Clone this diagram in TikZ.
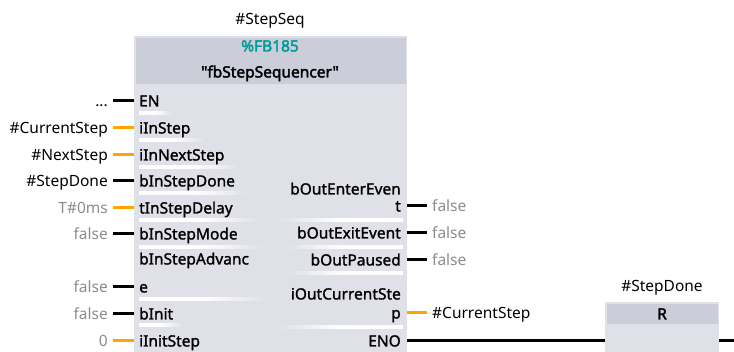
\documentclass[tikz,border=0pt]{standalone}
\usepackage{fontspec}
\setmainfont{Noto Sans}
\newfontfamily\pinfont[FakeBold=1.4]{Noto Sans}
\newfontfamily\hdrfont[FakeBold=2.4, Ligatures=TeXOff]{Noto Sans}

\definecolor{hdr}{RGB}{203,205,217}
\definecolor{bodyc}{RGB}{223,224,232}
\definecolor{wireor}{RGB}{255,165,0}
\definecolor{tealc}{RGB}{0,153,153}
\definecolor{muted}{RGB}{140,140,140}

% separators under pin names, white fading into the block colour
\pgfdeclarehorizontalshading{fadeRight}{100bp}{color(0bp)=(white); color(25bp)=(white); color(50bp)=(white); color(75bp)=(bodyc); color(100bp)=(bodyc)}
\pgfdeclarehorizontalshading{fadeLeft}{100bp}{color(0bp)=(bodyc); color(25bp)=(bodyc); color(50bp)=(white); color(75bp)=(white); color(100bp)=(white)}
\newcommand\leftsep[3]{\shade[shading=fadeRight] (#1,#3-1.5) rectangle (#2,#3+1.5);}
\newcommand\rightsep[3]{\shade[shading=fadeLeft] (#1,#3-1.5) rectangle (#2,#3+1.5);}

\tikzset{
  txt/.style={inner ysep=0pt, text height=12.9pt, text depth=0pt, font=\fontsize{15.5}{17}\selectfont},
  pinL/.style={txt, font=\fontsize{15.5}{17}\pinfont, anchor=west, inner xsep=5pt},
  pinR/.style={txt, font=\fontsize{15.5}{17}\pinfont, anchor=east, inner xsep=6pt},
  argL/.style={txt, anchor=east, inner xsep=5pt},
  argR/.style={txt, anchor=west, inner xsep=5pt},
  bold/.style={txt, font=\fontsize{15.5}{17}\hdrfont},
  wire/.style={line width=3pt, black},
  iwire/.style={line width=3pt, wireor},
}

\begin{document}
\begin{tikzpicture}[x=1pt,y=-1pt]
\useasboundingbox (0,0) rectangle (734,351);

% function block
\node[fill=bodyc, inner sep=0pt, minimum width=273pt, minimum height=330pt, anchor=north west] (fb) at (134,36) {};
\fill[hdr] (135.5,37.5) rectangle (405.5,84);
\node[txt] (inst) at (270,18) {\#StepSeq};
\node[bold, text=tealc] (fbnum) at (270,45) {\%FB185};
\node[bold] (fbname) at (270,71) {"fbStepSequencer"};

% input separators
\leftsep{139}{172}{113}
\leftsep{139}{205}{140}
\leftsep{139}{242}{167}
\leftsep{139}{250}{193}
\leftsep{139}{262}{220}
\leftsep{139}{265}{247}
\leftsep{139}{268}{299}
\leftsep{139}{183}{325}

% output separators
\rightsep{275}{403}{220}
\rightsep{283}{403}{247}
\rightsep{285}{403}{273}
\rightsep{275}{403}{327}

% input pins
\node[pinL] (en) at (134,100) {EN};
\node[pinL] (instep) at (134,127) {iInStep};
\node[pinL] (innext) at (134,154) {iInNextStep};
\node[pinL] (indone) at (134,180) {bInStepDone};
\node[pinL] (indelay) at (134,207) {tInStepDelay};
\node[pinL] (inmode) at (134,233) {bInStepMode};
\node[pinL] (inadv1) at (134,258) {bInStepAdvanc};
\node[pinL] (inadv) at (134,286) {e};
\node[pinL] (init) at (134,313) {bInit};
\node[pinL] (initstep) at (134,340) {iInitStep};

% input arguments
\node[argL] (aen) at (113,100) {...};
\node[argL] (ainstep) at (113,127) {\#CurrentStep};
\node[argL] (ainnext) at (113,154) {\#NextStep};
\node[argL] (aindone) at (113,180) {\#StepDone};
\node[argL, text=muted] (aindelay) at (113,207) {T\#0ms};
\node[argL, text=muted] (ainmode) at (113,233) {false};
\node[argL, text=muted] (ainadv) at (113,286) {false};
\node[argL, text=muted] (ainit) at (113,313) {false};
\node[argL, text=muted] (ainitstep) at (113,340) {0};

\draw[wire] (aen.east) -- (en.west);
\draw[iwire] (ainstep.east) -- (instep.west);
\draw[iwire] (ainnext.east) -- (innext.west);
\draw[wire] (aindone.east) -- (indone.west);
\draw[iwire] (aindelay.east) -- (indelay.west);
\draw[wire] (ainmode.east) -- (inmode.west);
\draw[wire] (ainadv.east) -- (inadv.west);
\draw[wire] (ainit.east) -- (init.west);
\draw[iwire] (ainitstep.east) -- (initstep.west);

% output pins
\node[pinR] (outenter1) at (407,188) {bOutEnterEven};
\node[pinR] (outenter) at (407,205) {t};
\node[pinR] (outexit) at (407,232) {bOutExitEvent};
\node[pinR] (outpaused) at (407,259) {bOutPaused};
\node[pinR] (outcur1) at (407,293) {iOutCurrentSte};
\node[pinR] (outcur) at (407,312) {p};
\node[pinR] (eno) at (407,340) {ENO};

% output arguments
\node[argR, text=muted] (aoutenter) at (427,205) {false};
\node[argR, text=muted] (aoutexit) at (427,232) {false};
\node[argR, text=muted] (aoutpaused) at (427,259) {false};
\node[argR] (aoutcur) at (427,312) {\#CurrentStep};

\draw[wire] (outenter.east) -- (aoutenter.west);
\draw[wire] (outexit.east) -- (aoutexit.west);
\draw[wire] (outpaused.east) -- (aoutpaused.west);
\draw[iwire] (outcur.east) -- (aoutcur.west);

% reset coil
\node[fill=bodyc, inner sep=0pt, minimum width=114pt, minimum height=60pt, anchor=north west] (rbox) at (605,302) {};
\fill[hdr] (606.5,303.5) rectangle (717.5,324);
\node[txt] (rop) at (662,285) {\#StepDone};
\node[bold] (rlbl) at (662,313) {R};
\coordinate (rail) at (734,340);

\draw[wire] (eno.east) -- (eno.east -| rbox.west);
\draw[wire] (eno.east -| rbox.east) -- (rail);
\end{tikzpicture}
\end{document}
